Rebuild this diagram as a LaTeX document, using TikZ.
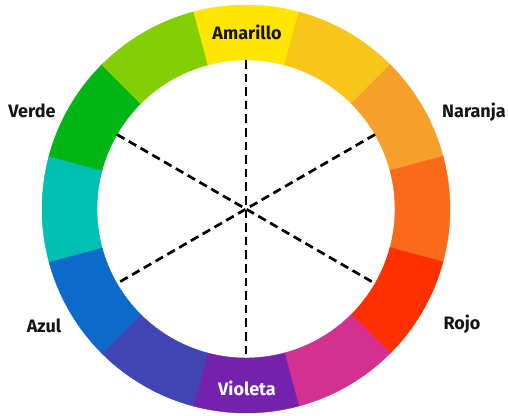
\documentclass[tikz,border=0pt]{standalone}
\usepackage{fontspec}
\setmainfont{Fira Sans}
\usepackage{tikz}
\usetikzlibrary{positioning}

\definecolor{amarillo}{HTML}{FFE600}
\definecolor{amarnar}{HTML}{F8C51B}
\definecolor{naranja}{HTML}{F6A02B}
\definecolor{rojnar}{HTML}{F96B1A}
\definecolor{rojo}{HTML}{FF3000}
\definecolor{rojviol}{HTML}{D3308F}
\definecolor{violeta}{HTML}{7421AE}
\definecolor{azulviol}{HTML}{4045B5}
\definecolor{azul}{HTML}{0C6ACB}
\definecolor{azulverde}{HTML}{00BFB3}
\definecolor{verde}{HTML}{00B514}
\definecolor{amarverde}{HTML}{84CF04}
\definecolor{texto}{HTML}{141414}

\tikzset{
  etiqueta/.style={font=\fontsize{9}{10}\selectfont\bfseries, text=texto, inner sep=0pt},
  guia/.style={dash pattern=on 4.3pt off 2.5pt, line width=1.35pt}
}

\begin{document}
\begin{tikzpicture}[x=0.5pt,y=0.5pt]
  \useasboundingbox (-246,-207) rectangle (262,209);
  % ring of twelve sectors
  \foreach \a/\col in {90/amarillo,60/amarnar,30/naranja,0/rojnar,-30/rojo,-60/rojviol,
                       -90/violeta,-120/azulviol,-150/azul,180/azulverde,150/verde,120/amarverde}{
    \fill[\col,draw=\col,line width=0.2pt] (\a-15:204) arc[start angle=\a-15,end angle=\a+15,radius=204]
      -- (\a+15:149) arc[start angle=\a+15,end angle=\a-15,radius=149] -- cycle;}
  % dashed guides
  \coordinate (c) at (0,0);
  \foreach \a in {90,30,-30,-90,-150,150}{\coordinate (g\a) at (\a:149);}
  \draw[guia] (g90) -- (g-90);
  \draw[guia] (g150) -- (g-30);
  \draw[guia] (g30) -- (g-150);
  % names
  \node[etiqueta] (amarillo) at (1,177) {Amarillo};
  \node[etiqueta,text=white] (violeta) at (1,-179) {Violeta};
  \node[etiqueta] (verde) at (-214,98) {Verde};
  \node[etiqueta] (naranja) at (228,97) {Naranja};
  \node[etiqueta] (azul) at (-202,-117) {Azul};
  \node[etiqueta] (rojo) at (216,-115) {Rojo};
\end{tikzpicture}
\end{document}
